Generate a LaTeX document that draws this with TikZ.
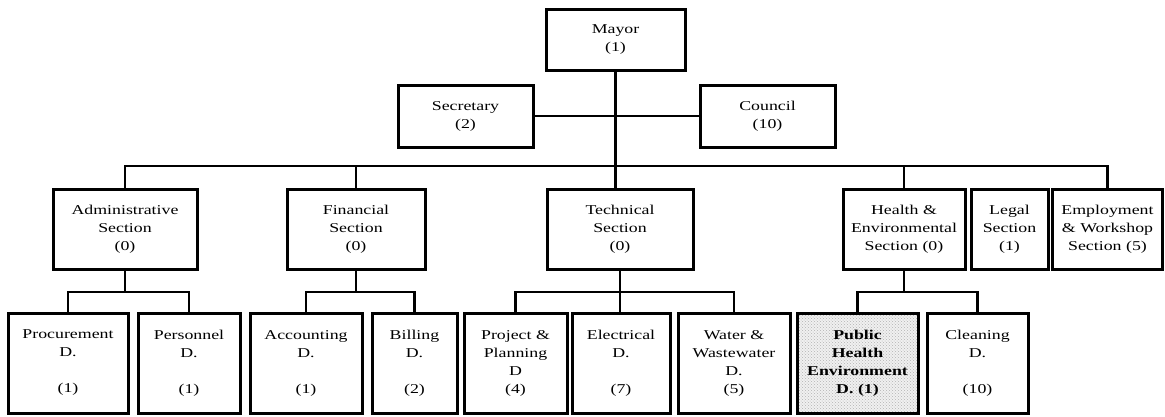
\documentclass[tikz,border=0pt]{standalone}
\usepackage{fontspec}
\setmainfont{Liberation Serif}[FakeStretch=1.32]
\usetikzlibrary{patterns}
\begin{document}
\begin{tikzpicture}[x=1pt,y=-1pt,
  box/.style={draw, line width=3pt, align=center, inner sep=0pt,
    font=\fontsize{13.5}{18}\selectfont},
  topbox/.style={box, minimum height=61pt},
  secbox/.style={box, minimum height=80pt},
  depbox/.style={box, minimum height=100pt},
  link/.style={line width=2.4pt},
  shaded/.style={preaction={fill=gray!12}, pattern=crosshatch dots, pattern color=black!30}]
\useasboundingbox (0,0) rectangle (1165,416);

% bus levels
\coordinate (bus) at (0,166);
\coordinate (sub) at (0,292);

% top management
\node[topbox, minimum width=139pt] (mayor) at (615.5,39.5) {Mayor\\(1)};
\node[box, minimum width=135pt, minimum height=62pt] (secretary) at (465.5,116) {Secretary\\(2)};
\node[box, minimum width=135pt, minimum height=62pt] (council) at (767.5,116) {Council\\(10)};

% sections
\node[secbox, minimum width=144pt] (admin) at (125,229) {Administrative\\Section\\(0)};
\node[secbox, minimum width=138pt] (finance) at (356,229) {Financial\\Section\\(0)};
\node[secbox, minimum width=146pt] (tech) at (620,229) {Technical\\Section\\(0)};
\node[secbox, minimum width=122pt] (health) at (904,229) {Health \&\\Environmental\\Section (0)};
\node[secbox, minimum width=77pt] (legal) at (1009.5,229) {Legal\\Section\\(1)};
\node[secbox, minimum width=110pt] (employ) at (1107.5,229) {Employment\\\& Workshop\\Section (5)};

% departments
\node[depbox, minimum width=120pt] (procure) at (68,363) {Procurement\\D.\\\strut\\(1)};
\node[depbox, minimum width=102pt] (personnel) at (189,363) {Personnel\\D.\\\strut\\(1)};
\node[depbox, minimum width=112pt] (account) at (306,363) {Accounting\\D.\\\strut\\(1)};
\node[depbox, minimum width=85pt] (billing) at (414.5,363) {Billing\\D.\\\strut\\(2)};
\node[depbox, minimum width=103pt] (project) at (515.5,363) {Project \&\\Planning\\D\\(4)};
\node[depbox, minimum width=98pt] (electric) at (621,363) {Electrical\\D.\\\strut\\(7)};
\node[depbox, minimum width=112pt] (water) at (734,363) {Water \&\\Wastewater\\D.\\(5)};
\node[depbox, shaded, minimum width=121pt, font=\fontsize{13.5}{18}\selectfont\bfseries] (public) at (857.5,363) {Public\\Health\\Environment\\D. (1)};
\node[depbox, minimum width=101pt] (clean) at (977.5,363) {Cleaning\\D.\\\strut\\(10)};

% mayor line and staff line
\draw[link] (mayor.south) -- (mayor.south |- tech.north);
\draw[link] (secretary.east) -- (council.west);

% section bus
\draw[link] (admin.north) -- (admin.north |- bus) -- (employ.north |- bus) -- (employ.north);
\draw[link] (finance.north) -- (finance.north |- bus);
\draw[link] (health.north) -- (health.north |- bus);

% department buses
\draw[link] (admin.south) -- (admin.south |- sub);
\draw[link] (procure.north) -- (procure.north |- sub) -- (personnel.north |- sub) -- (personnel.north);
\draw[link] (finance.south) -- (finance.south |- sub);
\draw[link] (account.north) -- (account.north |- sub) -- (billing.north |- sub) -- (billing.north);
\draw[link] (tech.south) -- (tech.south |- electric.north);
\draw[link] (project.north) -- (project.north |- sub) -- (water.north |- sub) -- (water.north);
\draw[link] (health.south) -- (health.south |- sub);
\draw[link] (public.north) -- (public.north |- sub) -- (clean.north |- sub) -- (clean.north);
\end{tikzpicture}
\end{document}
